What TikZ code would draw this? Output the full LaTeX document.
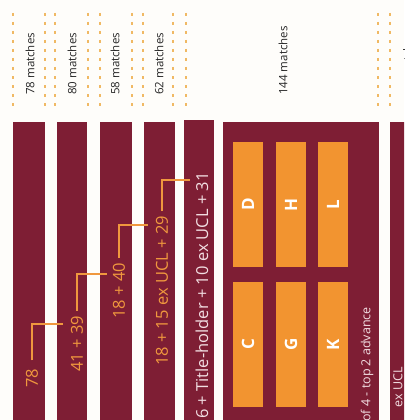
\documentclass[tikz,border=0pt]{standalone}
\usepackage{fontspec}
\setmainfont{Open Sans}
\usetikzlibrary{positioning}
\definecolor{barFill}{RGB}{126,30,52}
\definecolor{slotFill}{RGB}{242,148,48}
\definecolor{inkOrange}{RGB}{240,152,62}
\definecolor{inkPale}{RGB}{242,222,226}
\definecolor{guideStroke}{RGB}{240,185,100}
\definecolor{paper}{RGB}{254,253,250}
\tikzset{
  bar/.style={
    fill=barFill,
    draw=none,
    inner sep=0pt,
    anchor=north,
    minimum height=310pt
  },
  slot/.style={
    rotate=90,
    fill=slotFill,
    draw=none,
    inner sep=0pt,
    minimum width=125pt,
    minimum height=30pt,
    text=white,
    font=\fontsize{17}{19}\selectfont\bfseries
  },
  count/.style={rotate=90, inner sep=0pt, text=black!85, font=\fontsize{11.5}{13}\selectfont},
  score/.style={rotate=90, inner sep=0pt, text=inkOrange, font=\fontsize{16.5}{18}\selectfont},
  paletext/.style={rotate=90, inner sep=0pt, text=inkPale, font=\fontsize{16.5}{18}\selectfont},
  note/.style={rotate=90, inner sep=0pt, text=inkPale, font=\fontsize{12.5}{14}\selectfont},
  link/.style={draw=inkOrange, line width=1.1pt},
  guide/.style={draw=guideStroke, line width=1.5pt, dash pattern=on 3pt off 6pt}
}

\begin{document}
\begin{tikzpicture}[x=1pt,y=-1pt]
  \fill[paper] (0,0) rectangle (404,420);
  \useasboundingbox (0,0) rectangle (404,420);
  \clip (0,0) rectangle (404,420);

  % dotted column guides
  \foreach \x in {13,45,55,88,100,132,143,173,186,378,390}
    \draw[guide] (\x,13) -- (\x,108);

  \node[count, anchor=west] (m1) at (30,95) {78 matches};
  \node[count, anchor=west] (m2) at (72,95) {80 matches};
  \node[count, anchor=west] (m3) at (115,95) {58 matches};
  \node[count, anchor=west] (m4) at (159,95) {62 matches};
  \node[count, anchor=west] (m5) at (283,95) {144 matches};
  \node[count, anchor=east] (m6) at (407.5,32) {matches};

  % bars
  \node[bar, minimum width=32pt] (b1) at (29,122) {};
  \node[bar, minimum width=30pt] (b2) at (72,122) {};
  \node[bar, minimum width=32pt] (b3) at (116,122) {};
  \node[bar, minimum width=31pt] (b4) at (159.5,122) {};
  \node[bar, minimum width=30pt] (b5) at (199,120) {};
  \node[bar, minimum width=156pt] (grp) at (301,122) {};
  \node[bar, minimum width=30pt] (b7) at (405,122) {};

  % group slots
  \node[slot] (sD) at (248,204.5) {D};
  \node[slot] (sH) at (291,204.5) {H};
  \node[slot] (sL) at (333,204.5) {L};
  \node[slot] (sC) at (248,344.5) {C};
  \node[slot] (sG) at (291,344.5) {G};
  \node[slot] (sK) at (333,344.5) {K};

  % scores
  \node[score] (t1) at (32,378) {78};
  \node[score] (t2) at (77,344) {41 + 39};
  \node[score] (t3) at (119,291) {18 + 40};
  \node[score] (t4) at (162,291) {18 + 15 ex UCL + 29};
  \node[paletext, anchor=east] (t5) at (202,172) {6 + Title-holder + 10 ex UCL + 31};
  \node[note, anchor=east] (g1) at (367,307) {of 4 - top 2 advance};
  \node[note, anchor=east] (t7) at (398,367) {ex UCL};

  \coordinate (j1) at (63,324);
  \coordinate (j2) at (107,274);
  \coordinate (j3) at (148,225);
  \coordinate (j4) at (190,180);

  \draw[link] ([yshift=8pt]t1.east) |- (j1);
  \draw[link] ([yshift=5pt]t2.east) |- (j2);
  \draw[link] ([yshift=5pt]t3.east) |- (j3);
  \draw[link] ([yshift=5pt]t4.east) |- (j4);
\end{tikzpicture}
\end{document}
